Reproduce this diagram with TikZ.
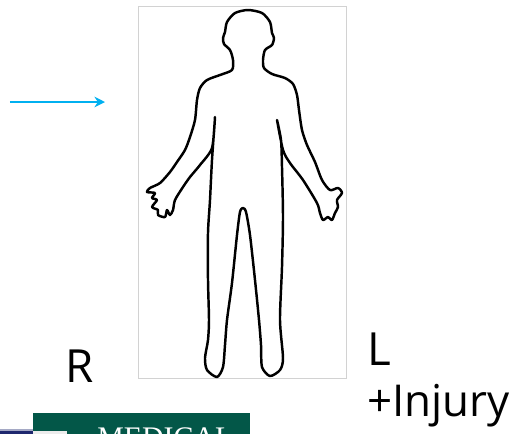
\documentclass[tikz,border=0pt]{standalone}
\usepackage{fontspec}
\setmainfont{Open Sans}
\newfontfamily\bannerfont{Liberation Serif}
\usetikzlibrary{arrows.meta, positioning}
\definecolor{pointercolor}{RGB}{0,176,240}
\definecolor{bannercolor}{RGB}{3,87,72}
\definecolor{stripcolor}{RGB}{30,40,110}

\begin{document}
\begin{tikzpicture}[
    x=0.02cm, y=-0.02cm,
    chart/.style={draw=gray!35, line width=0.6pt, fill=white, inner sep=0pt, anchor=north west},
    outline/.style={draw, line width=1.4pt, line join=round},
    side/.style={font=\fontsize{26}{30}\selectfont, inner sep=0pt, anchor=base west},
    pointer/.style={-{Stealth[length=6pt, width=6pt]}, line width=1.1pt, draw=pointercolor}
]
    \useasboundingbox (0,0) rectangle (512,434);

    % Body chart
    \node[chart, minimum width=4.16cm, minimum height=7.44cm] (chart) at (138,6) {};
    \draw[outline] plot[smooth cycle, tension=0.45] coordinates {
        (248,10) (262,13) (270,22) (272,33) (274,38) (272,45) (265,50) (263,60)
        (264,68) (272,74) (285,78) (293,84) (297,95) (299,110) (302,130) (307,145)
        (315,162) (322,180) (330,190) (338,188) (342,193) (337,200) (338,207)
        (335,213) (332,220) (328,217) (323,220) (320,213) (317,203) (303,180)
        (290,163) (283,150) (277,120)
        (281,140) (282,167) (283,217) (282,267) (280,320) (283,358) (280,370)
        (270,376) (262,367) (261,345) (259,320) (255,280) (250,235) (246,212)
        (243,208) (240,212) (237,235) (232,283) (227,320) (225,345) (223,367)
        (217,377) (207,370) (205,358) (208,340) (209,320) (208,280) (208,233)
        (210,200) (212,160) (215,117)
        (212,148) (200,165) (190,177) (183,187) (175,200) (173,210) (170,215)
        (167,210) (165,217) (158,215) (158,210) (152,207) (157,200) (152,198)
        (155,193) (147,192) (150,188) (160,183) (170,172) (177,162) (185,150)
        (190,137) (195,120) (197,100) (200,88) (207,80) (220,75) (232,70)
        (233,60) (230,50) (224,44) (223,38) (225,32) (227,22) (235,13)};

    % Pointer
    \coordinate (tail) at (10,102);
    \coordinate (tip) at (105,102);
    \draw[pointer] (tail) -- (tip);

    % Side labels
    \node[side] (sideR) at (65,382) {R};
    \node[side] (sideL) at (367,365) {L};
    \node[side, font=\fontsize{25}{29}\selectfont] (injury) at (367,416) {+Injury};

    % Banner
    \fill[stripcolor!40] (0,429) rectangle (33,431);
    \fill[stripcolor] (0,431) rectangle (33,434);
    \node[fill=bannercolor, inner sep=0pt, anchor=north west, minimum width=4.34cm, minimum height=0.5cm] (banner) at (33,413) {};
    \fill[gray!15] (33,431) rectangle (67,434);
    \node[font=\bannerfont\fontsize{17}{20}\selectfont, text=white, inner sep=0pt, anchor=base west] (bannertext) at (97,447) {MEDICAL};
\end{tikzpicture}
\end{document}
